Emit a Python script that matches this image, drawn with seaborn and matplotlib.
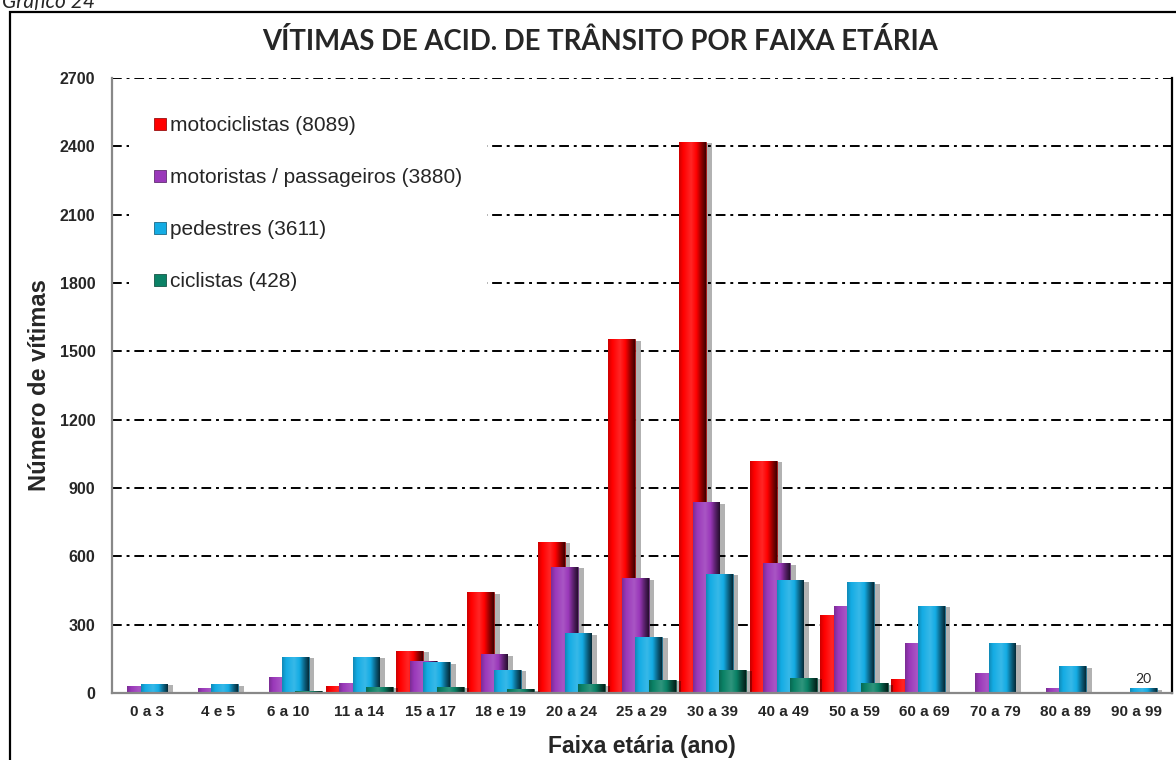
import matplotlib
matplotlib.use("Agg")
import matplotlib.pyplot as plt
import matplotlib.patheffects as pe
from matplotlib.colors import LinearSegmentedColormap, to_rgb
from matplotlib.patches import Rectangle
import numpy as np
import pandas as pd
import seaborn as sns

sns.set_style("white")
plt.rcParams["font.family"] = ["Liberation Sans", "DejaVu Sans"]

# faixas etárias e vítimas por tipo
faixas = ["0 a 3", "4 e 5", "6 a 10", "11 a 14", "15 a 17", "18 e 19", "20 a 24", "25 a 29",
          "30 a 39", "40 a 49", "50 a 59", "60 a 69", "70 a 79", "80 a 89", "90 a 99"]
motociclistas = [0, 0, 0, 30, 186, 442, 665, 1552, 2421, 1019, 341, 60, 0, 0, 0]
motoristas = [32, 20, 69, 45, 140, 170, 554, 504, 838, 569, 382, 221, 89, 24, 0]
pedestres = [40, 38, 159, 159, 134, 101, 262, 246, 522, 494, 486, 383, 218, 117, 20]
ciclistas = [0, 0, 8, 26, 26, 17, 39, 57, 101, 66, 42, 0, 0, 0, 0]

tipos = ["motociclistas (8089)", "motoristas / passageiros (3880)", "pedestres (3611)", "ciclistas (428)"]
cores = ["#FF0000", "#9A38BA", "#14ACE4", "#0B8266"]
yticks = list(range(0, 2701, 300))

df = pd.DataFrame({
    "faixa": faixas * 4,
    "tipo": np.repeat(tipos, len(faixas)),
    "vitimas": motociclistas + motoristas + pedestres + ciclistas,
})


def bevel_cmap(cor):
    # horizontal shading: a bit dark at left, bright middle, dark right side
    r = np.array(to_rgb(cor))
    light = r + (1 - r) * 0.15
    return LinearSegmentedColormap.from_list(
        "bev", [(0, r * 0.8), (0.15, r), (0.45, light), (0.65, r), (0.85, r * 0.55), (1, r * 0.25)])


fig = plt.figure(figsize=(11.76, 7.6), dpi=100)
ax = fig.add_axes([112 / 1176, 1 - 693 / 760, 1060 / 1176, 615 / 760])

sns.barplot(data=df, x="faixa", y="vitimas", hue="tipo", order=faixas, hue_order=tipos,
            palette=cores, saturation=1, width=0.76, dodge=True, errorbar=None, legend=False, ax=ax)

# bars overlap each other, each one twice the dodge width
shadow = [pe.SimplePatchShadow(offset=(4, -1), shadow_rgbFace="k", alpha=0.3), pe.Normal()]
grad = np.linspace(0, 1, 64).reshape(1, -1)
for i, (container, cor) in enumerate(zip(ax.containers, cores)):
    cmap = bevel_cmap(cor)
    for bar in container:
        w = bar.get_width()
        c = bar.get_x() + w / 2
        bar.set_x(c - w)
        bar.set_width(2 * w)
        bar.set_edgecolor(sns.dark_palette(cor, 3)[1])
        bar.set_linewidth(0.6)
        bar.set_path_effects(shadow)
        bar.set_zorder(2 + i * 0.1)
        if bar.get_height() == 0:
            bar.set_visible(False)
            continue
        x0, y0 = bar.get_x(), bar.get_y()
        im = ax.imshow(grad, cmap=cmap, aspect="auto", interpolation="bilinear",
                       extent=[x0, x0 + bar.get_width(), y0, y0 + bar.get_height()],
                       zorder=2 + i * 0.1 + 0.05)
        im.set_clip_path(bar)

# valor do último grupo
ax.text(14.095, pedestres[-1] + 15, "20", ha="center", va="bottom", fontsize=10,
        family=["Lato", "DejaVu Sans"])

ax.set_ylim(0, 2700)
ax.set_xlim(-0.5, 14.5)
ax.set_yticks(yticks)
ax.set_yticklabels([str(v) for v in yticks], fontsize=11.5, fontweight="bold")
ax.tick_params(axis="y", direction="in", length=5, color="#888888", pad=12)
ax.set_xticks(range(len(faixas)))
ax.set_xticklabels(faixas, fontsize=11, fontweight="bold")
ax.tick_params(axis="x", which="major", length=0, pad=9)
ax.set_xticks(np.arange(-0.5, 15, 1), minor=True)
ax.tick_params(axis="x", which="minor", direction="out", length=5, color="#888888", width=1.2)

ax.set_axisbelow(True)
ax.yaxis.grid(True, color="black", linewidth=1.4, linestyle=(0, (5, 2.5, 1.5, 2.5)))
ax.xaxis.grid(False)

for s in ["left", "bottom"]:
    ax.spines[s].set_color("#888888")
    ax.spines[s].set_linewidth(1.6)
ax.spines["right"].set_color("black")
ax.spines["right"].set_linewidth(1.6)
ax.spines["top"].set_visible(False)

ax.set_xlabel("Faixa etária (ano)", fontsize=16.5, fontweight="bold", labelpad=11)
ax.set_ylabel("Número de vítimas", fontsize=17, fontweight="bold", labelpad=6)

handles = [Rectangle((0, 0), 1, 1, facecolor=c, edgecolor=sns.dark_palette(c, 3)[1], linewidth=0.6)
           for c in cores]
leg = ax.legend(handles, tipos, loc="upper left", bbox_to_anchor=(0.0066, 0.995), frameon=True,
                fontsize=15, handlelength=0.55, handleheight=0.55, handletextpad=0.2,
                labelspacing=1.58, borderpad=1.2, fancybox=False)
leg.get_frame().set_facecolor("white")
leg.get_frame().set_edgecolor("none")
leg.get_frame().set_alpha(1)

fig.text(600 / 1176, 1 - 42 / 760, "VÍTIMAS DE ACID. DE TRÂNSITO POR FAIXA ETÁRIA", ha="center",
         va="center", fontsize=19.8, fontweight="bold", family=["Lato", "DejaVu Sans"])
fig.text(2 / 1176, 1 - 8 / 760, "Gráfico 24", ha="left", va="baseline", fontsize=15,
         style="italic", family=["Lato", "DejaVu Sans"])

fig.patches.append(Rectangle((10 / 1176, -0.02), 1.05, 1 - 12 / 760 + 0.02, transform=fig.transFigure,
                             fill=False, edgecolor="black", linewidth=1.6, clip_on=False))

fig.savefig("out.png", dpi=100)
